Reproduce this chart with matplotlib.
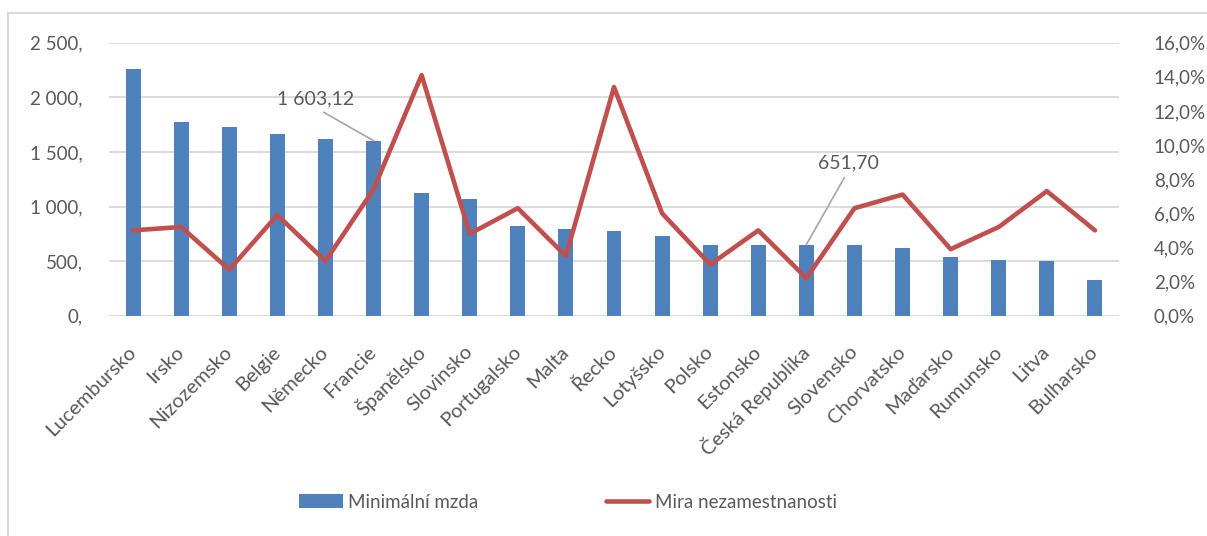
#! /usr/bin/env python3

import matplotlib.pyplot as plt
from matplotlib.patches import Rectangle

## Données

zeme = ["Lucembursko", "Irsko", "Nizozemsko", "Belgie", "Německo", "Francie",
        "Španělsko", "Slovinsko", "Portugalsko", "Malta", "Řecko", "Lotyšsko",
        "Polsko", "Estonsko", "Česká Republika", "Slovensko", "Chorvatsko",
        "Maďarsko", "Rumunsko", "Litva", "Bulharsko"]

mzda = [2257, 1777, 1725, 1661, 1618, 1603.12, 1126, 1072, 821, 791, 772,
        727, 652, 652, 651.70, 644, 623, 540, 510, 498, 327]

nezamestnanost = [5.0, 5.2, 2.7, 5.9, 3.2, 7.4, 14.1, 4.8, 6.3, 3.5, 13.4,
                  6.0, 3.0, 5.0, 2.2, 6.3, 7.1, 3.9, 5.2, 7.3, 5.0]

levy_ticks = [0, 500, 1000, 1500, 2000, 2500]
levy_popisky = ["0,", "500,", "1 000,", "1 500,", "2 000,", "2 500,"]
pravy_ticks = [0, 2, 4, 6, 8, 10, 12, 14, 16]
pravy_popisky = ["0,0%", "2,0%", "4,0%", "6,0%", "8,0%", "10,0%", "12,0%",
                 "14,0%", "16,0%"]

# popisky dat : (index, text, posun en points)
popisky_dat = [(5, "1 603,12", (-42, 30)), (14, "651,70", (30, 59))]

MODRA = "#4F81BD"
CERVENA = "#C0504D"
SEDA = "#595959"
MRIZKA = "#D9D9D9"

plt.rcParams["font.family"] = ["Lato", "DejaVu Sans"]
plt.rcParams["font.size"] = 13.5

W, H = 1207, 536
fig = plt.figure(figsize=(W / 100, H / 100), dpi=100)
fig.patches.append(Rectangle((8 / W, -0.1), 1.1, 1 - 13 / H + 0.1,
                             transform=fig.transFigure, fill=False,
                             edgecolor=MRIZKA, linewidth=1.5))

ax = fig.add_axes([109 / W, 1 - 315.7 / H, (1119 - 109) / W, (315.7 - 42.7) / H])
ax2 = ax.twinx()

x = list(range(len(zeme)))
ax.bar(x, mzda, width=0.31, color=MODRA, label="Minimální mzda", zorder=2)
ax2.plot(x, nezamestnanost, color=CERVENA, linewidth=3.3,
         solid_joinstyle="round", solid_capstyle="round",
         label="Mira nezamestnanosti")

ax.set_xlim(-0.5, len(zeme) - 0.5)
ax.set_ylim(0, 2500)
ax2.set_ylim(0, 16)

ax.set_yticks(levy_ticks, levy_popisky)
ax2.set_yticks(pravy_ticks, pravy_popisky)
ax.set_xticks(x, zeme, rotation=45, ha="right", va="center",
              rotation_mode="anchor", fontsize=14.5)

ax.grid(axis="y", color=MRIZKA, linewidth=1.3, zorder=0)
ax.set_axisbelow(True)
for a in (ax, ax2):
    for s in a.spines.values():
        s.set_visible(False)
ax.tick_params(axis="y", length=0, pad=19, colors=SEDA)
ax2.tick_params(axis="y", length=0, pad=25, colors=SEDA)
ax.tick_params(axis="x", length=0, pad=24, colors=SEDA)

for i, txt, posun in popisky_dat:
    ax.annotate(txt, xy=(i, mzda[i]), xytext=posun, textcoords="offset points",
                ha="center", va="center", color=SEDA, fontsize=14,
                arrowprops=dict(arrowstyle="-", color="#A6A6A6", lw=1.2,
                                relpos=(0.5, 0), shrinkA=3, shrinkB=0))

h1, l1 = ax.get_legend_handles_labels()
h2, l2 = ax2.get_legend_handles_labels()
fig.legend(h1 + h2, l1 + l2, loc="center", bbox_to_anchor=(568 / W, 1 - 502 / H),
           ncol=2, frameon=False, labelcolor=SEDA, handlelength=2.3,
           handletextpad=0.3, columnspacing=6.8)

fig.savefig("out.png", dpi=100)
